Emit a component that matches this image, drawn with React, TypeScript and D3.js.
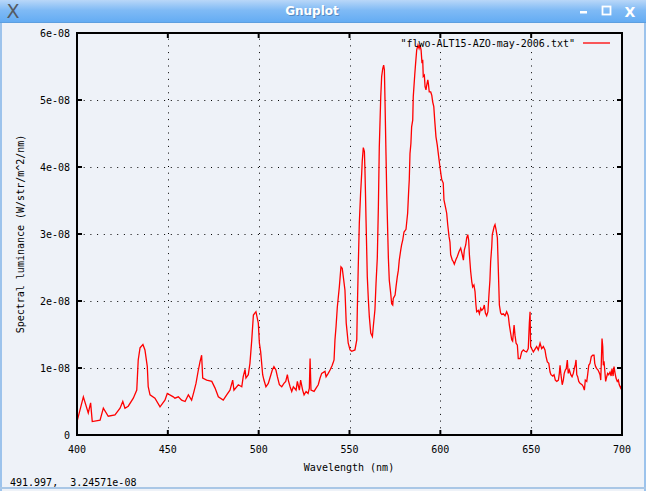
import React from "react";
import * as d3 from "d3";

// Wavelength (nm)
const wavelengths = [400.0,403.5,406.2,407.5,408.4,412.7,414.5,417.2,420.9,423.7,425.2,426.4,428.2,431.0,432.9,433.7,434.7,436.3,437.4,438.7,439.2,440.2,442.9,445.7,448.4,449.7,453.0,453.9,455.8,457.6,459.5,461.3,463.1,464.4,465.5,466.8,467.7,468.6,469.2,471.4,474.2,476.0,477.8,480.5,482.4,484.2,485.7,486.4,488.8,490.7,491.5,492.5,493.0,494.3,495.2,496.2,497.1,498.5,499.8,500.4,501.1,502.2,502.9,504.0,505.3,506.2,507.5,508.4,509.5,510.3,511.4,512.7,513.9,514.9,515.8,516.3,517.3,518.2,519.1,520.6,521.3,522.4,523.1,524.2,525.0,526.1,527.2,527.9,528.3,528.8,530.5,531.6,532.8,533.8,534.7,536.5,537.1,538.3,539.3,540.5,541.5,542.0,542.6,543.3,544.4,545.3,546.0,546.6,547.5,548.2,549.3,550.3,551.2,553.0,554.0,554.3,554.8,555.4,556.1,556.7,557.0,557.6,558.2,558.5,558.8,559.1,559.8,560.4,560.9,561.7,562.6,563.1,564.0,564.6,565.3,565.9,566.4,567.2,567.7,568.3,568.8,569.2,569.5,570.1,570.5,571.4,571.9,572.7,573.2,573.8,574.1,575.1,575.6,576.3,576.9,577.4,578.2,578.7,579.3,580.0,581.1,581.5,582.0,582.6,582.9,583.3,583.8,584.2,584.8,585.1,585.9,586.4,587.0,587.7,588.3,588.8,589.4,589.9,590.3,590.6,591.2,591.6,592.1,592.5,593.1,593.4,593.9,594.7,595.3,595.8,596.4,596.9,597.6,598.3,599.1,599.8,600.4,600.8,601.6,602.0,603.0,603.5,604.1,604.8,605.3,605.7,606.6,607.1,607.7,608.6,609.3,610.3,611.2,612.1,612.7,613.2,614.0,614.5,615.1,615.6,616.0,616.7,617.3,617.8,618.5,619.1,619.6,620.0,620.9,621.5,622.2,622.8,623.7,624.2,624.8,625.5,626.2,626.8,627.3,627.7,628.3,628.6,629.2,629.6,630.1,630.7,631.4,631.9,632.5,633.2,633.8,634.7,635.6,636.5,637.4,638.0,638.7,639.3,639.8,640.6,641.1,641.7,642.4,642.9,643.9,644.8,645.7,646.6,647.5,648.4,649.0,649.4,649.7,651.2,653.0,653.9,654.9,655.8,656.7,657.6,658.2,658.9,659.7,660.4,660.9,661.9,662.6,663.3,664.1,665.0,665.5,665.9,666.4,667.1,667.7,668.2,668.8,669.3,669.9,670.4,671.0,671.8,672.5,673.2,673.8,674.3,674.7,675.1,675.6,676.2,676.9,678.0,678.7,679.3,679.8,680.6,681.1,681.7,682.4,683.1,683.9,684.6,685.0,685.5,686.1,686.8,687.3,687.9,688.3,688.6,689.0,689.4,689.7,690.1,690.5,691.0,691.6,692.1,692.7,693.4,694.0,694.5,695.1,695.6,696.2,696.7,697.4,698.0,698.5,699.3,700.0];

// Spectral luminance, in units of 1e-08 W/str/m^2/nm
const luminanceE8 = [0.20,0.57,0.33,0.48,0.20,0.22,0.40,0.28,0.30,0.40,0.50,0.40,0.43,0.55,0.67,1.12,1.30,1.35,1.27,1.02,0.72,0.60,0.55,0.42,0.52,0.62,0.57,0.55,0.57,0.52,0.50,0.60,0.52,0.65,0.77,0.97,1.09,1.19,0.85,0.82,0.80,0.70,0.57,0.52,0.60,0.67,0.82,0.67,0.75,0.72,0.87,0.98,0.85,0.90,1.07,1.42,1.79,1.84,1.67,1.37,1.24,0.90,0.82,0.72,0.77,0.85,0.97,1.02,0.97,0.87,0.75,0.72,0.77,0.80,0.90,0.82,0.72,0.65,0.72,0.67,0.80,0.67,0.82,0.67,0.60,0.65,0.62,0.70,1.14,0.67,0.65,0.70,0.75,0.85,0.92,0.95,0.87,0.92,0.97,1.04,1.12,1.42,1.62,1.91,2.21,2.51,2.49,2.36,2.16,1.67,1.37,1.27,1.25,1.27,1.42,1.87,2.49,3.16,3.60,3.90,4.08,4.29,4.23,3.96,3.60,3.21,2.36,2.01,1.77,1.52,1.47,1.62,1.87,2.26,2.64,3.41,4.30,5.05,5.35,5.47,5.52,5.45,5.05,4.18,3.60,2.64,2.31,2.11,1.96,1.94,2.04,2.09,2.21,2.36,2.46,2.61,2.76,2.84,2.91,3.03,3.07,3.18,3.31,3.66,3.81,4.20,4.35,4.60,4.70,5.05,5.37,5.55,5.75,5.82,5.77,5.82,5.75,5.55,5.60,5.35,5.37,5.20,5.15,5.22,5.30,5.25,5.12,5.12,5.07,4.97,4.90,4.70,4.45,4.33,4.15,4.00,3.88,3.81,3.76,3.51,3.38,3.31,3.13,2.96,2.88,2.69,2.61,2.59,2.55,2.62,2.66,2.74,2.79,2.69,2.61,2.76,2.84,2.94,2.99,2.91,2.69,2.44,2.29,2.21,2.24,2.14,1.94,1.84,1.86,1.81,1.89,1.86,1.89,1.94,1.82,1.78,1.84,2.11,2.31,2.59,2.81,2.99,3.06,3.11,3.14,3.06,2.94,2.49,1.94,1.82,1.80,1.81,1.78,1.84,1.78,1.64,1.52,1.42,1.40,1.64,1.49,1.37,1.34,1.14,1.14,1.24,1.27,1.25,1.24,1.29,1.67,1.84,1.32,1.24,1.32,1.27,1.37,1.29,1.32,1.27,1.17,1.09,1.07,0.94,0.90,0.88,0.90,0.82,0.80,0.82,0.92,1.04,0.90,0.75,0.82,0.92,0.97,0.99,1.12,0.92,0.97,0.90,0.87,0.92,1.00,1.05,1.12,0.90,0.87,0.80,0.77,0.75,0.72,0.67,0.82,0.80,0.90,1.04,1.07,1.17,1.19,1.19,1.07,1.02,0.99,0.97,0.94,0.90,0.82,1.07,1.44,1.32,1.04,1.10,0.97,0.80,0.87,0.92,0.90,0.94,0.88,0.99,0.88,1.02,0.92,0.85,0.80,0.82,0.75,0.70,0.75];

const xTicks = [400, 450, 500, 550, 600, 650, 700];
const yTicks = [0, 1, 2, 3, 4, 5, 6];
const yTickLabels = ["0", "1e-08", "2e-08", "3e-08", "4e-08", "5e-08", "6e-08"];

const legendLabel = '"flwo-ALT15-AZO-may-2006.txt"';
const xTitle = "Wavelength (nm)";
const yTitle = "Spectral luminance (W/str/m^2/nm)";
const windowTitle = "Gnuplot";
const statusText = "491.997,  3.24571e-08";

const W = 646, H = 491;
const left = 77, right = 622, top = 33, bottom = 435;
const mono = "'DejaVu Sans Mono', 'Liberation Mono', monospace";

export default function App() {
  const x = d3.scaleLinear().domain([400, 700]).range([left, right]);
  const y = d3.scaleLinear().domain([0, 6]).range([bottom, top]);
  const pts: [number, number][] = wavelengths.map((w, i) => [w, luminanceE8[i]]);
  const line = d3.line<[number, number]>().x(d => x(d[0])).y(d => y(d[1]));
  const keyBottom = 50, keyLeft = 390;

  return (
    <div style={{ position: "fixed", left: 0, top: 0, width: W, height: H }}>
      <svg width={W} height={H} style={{ display: "block" }}>
        <defs>
          <linearGradient id="tb" x1="0" y1="0" x2="0" y2="1">
            <stop offset="0" stopColor="#b9d7f8" />
            <stop offset="0.45" stopColor="#7fbaf5" />
            <stop offset="1" stopColor="#62abf3" />
          </linearGradient>
        </defs>
        <rect x={0} y={0} width={W} height={H} fill="#eef2f8" />
        {/* window borders */}
        <rect x={0} y={0} width={2} height={H} fill="#9cc3ec" />
        <rect x={W - 2} y={0} width={2} height={H} fill="#9cc3ec" />
        <rect x={0} y={487} width={W} height={2} fill="#a9c7e6" />
        {/* title bar */}
        <rect x={0} y={0} width={W} height={23} fill="url(#tb)" />
        <rect x={0} y={22} width={W} height={1} fill="#5d9fe0" />
        <text x={13} y={18} fontFamily="'DejaVu Sans', sans-serif" fontSize={19} fill="#555a62" textAnchor="middle">X</text>
        <text x={313} y={16} fontFamily="'DejaVu Sans', sans-serif" fontSize={12} fill="#3a5f8a" textAnchor="middle" fontWeight="bold" opacity={0.5}>{windowTitle}</text>
        <text x={312} y={15} fontFamily="'DejaVu Sans', sans-serif" fontSize={12} fill="#ffffff" textAnchor="middle" fontWeight="bold">{windowTitle}</text>
        <rect x={580} y={11} width={7} height={2.5} fill="#ffffff" />
        <rect x={602.5} y={6.5} width={8} height={8} fill="none" stroke="#ffffff" strokeWidth={1.8} />
        <text x={630} y={17} fontFamily="'DejaVu Sans', sans-serif" fontSize={14} fill="#ffffff" textAnchor="middle" fontWeight="bold">X</text>

        {/* grid */}
        <g stroke="#000" strokeWidth={1} strokeDasharray="1,5.7" fill="none">
          {yTicks.filter(t => t > 0 && t < 6).map(t => (
            <line key={"gy" + t} x1={left} x2={right} y1={Math.round(y(t)) + 0.5} y2={Math.round(y(t)) + 0.5} />
          ))}
          {xTicks.filter(t => t > 400 && t < 700).map(t => (
            <line key={"gx" + t} x1={Math.round(x(t)) + 0.5} x2={Math.round(x(t)) + 0.5} y1={bottom} y2={x(t) > keyLeft ? keyBottom : top} />
          ))}
        </g>

        {/* curve */}
        <path d={line(pts) || ""} fill="none" stroke="#ff0000" strokeWidth={1.3} strokeLinejoin="miter" />

        {/* border */}
        <rect x={left} y={top} width={right - left} height={bottom - top} fill="none" stroke="#000" strokeWidth={2} />
        {/* ticks */}
        <g stroke="#000" strokeWidth={2}>
          {yTicks.map(t => (
            <g key={"ty" + t}>
              <line x1={left} x2={left + 5} y1={y(t)} y2={y(t)} />
              <line x1={right - 5} x2={right} y1={y(t)} y2={y(t)} />
            </g>
          ))}
          {xTicks.map(t => (
            <g key={"tx" + t}>
              <line x1={x(t)} x2={x(t)} y1={bottom} y2={bottom - 5} />
              <line x1={x(t)} x2={x(t)} y1={top} y2={top + 5} />
            </g>
          ))}
        </g>

        {/* tick labels */}
        <g fontFamily={mono} fontSize={10} fill="#000">
          {yTicks.map((t, i) => (
            <text key={"ly" + t} x={70} y={y(t) + 4} textAnchor="end">{yTickLabels[i]}</text>
          ))}
          {xTicks.map(t => (
            <text key={"lx" + t} x={x(t)} y={453} textAnchor="middle">{t}</text>
          ))}
          <text x={349} y={471} textAnchor="middle">{xTitle}</text>
          <text transform="translate(24,234) rotate(-90)" textAnchor="middle">{yTitle}</text>
          <text x={575} y={47} textAnchor="end">{legendLabel}</text>
          <text x={10} y={486} style={{ whiteSpace: "pre" }}>{statusText}</text>
        </g>
        <line x1={583} x2={610} y1={43} y2={43} stroke="#ff0000" strokeWidth={1.3} />
      </svg>
    </div>
  );
}
